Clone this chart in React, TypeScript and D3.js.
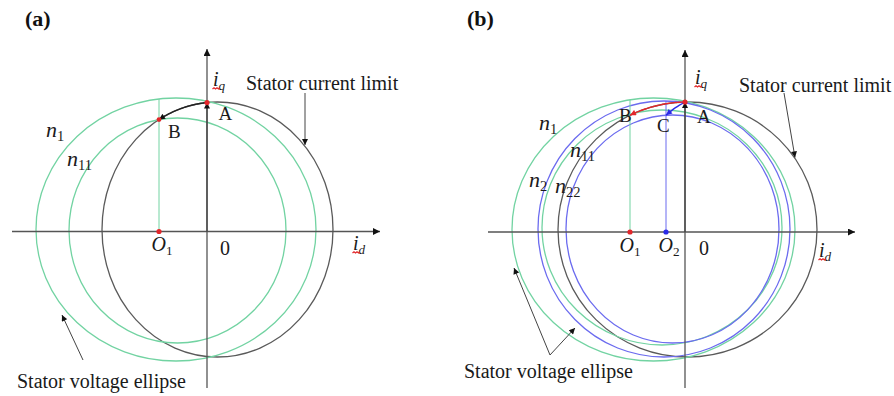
import React from "react";
import * as d3 from "d3";

const W = 894;
const H = 396;
const UNIT = 100; // pixels per unit of current

type Ellipse = { id: string; cx: number; cy: number; rx: number; ry: number; kind: "limit" | "green" | "blue" };
type Lbl = { x: number; y: number; main: string; sub?: string; italic?: boolean; subItalic?: boolean; size?: number; squiggle?: boolean };
type Arrow = { x1: number; y1: number; x2: number; y2: number };

// ---- panel (a) ----
const ellipsesA: Ellipse[] = [
  { id: "limit", cx: 0.105, cy: 0.02, rx: 1.155, ry: 1.275, kind: "limit" },
  { id: "n1", cx: -0.31, cy: 0.02, rx: 1.4, ry: 1.315, kind: "green" },
  { id: "n11", cx: -0.295, cy: 0.01, rx: 1.085, ry: 1.125, kind: "green" },
];
const centersA = [{ id: "O1", x: -0.48, guide: "n1", color: "red" }];
const trajectoryA = [{ to: "O1", along: "limit", color: "black" }];
const axisRangeA = { xMin: -1.95, xMax: 1.73, yMin: -1.565, yMax: 1.825 };
const labelsA: Lbl[] = [
  { x: 0.06, y: 1.455, main: "i", sub: "q", italic: true, subItalic: true, squiggle: true },
  { x: 0.39, y: 1.42, main: "Stator current limit" },
  { x: 0.115, y: 1.115, main: "A", size: 19 },
  { x: -0.39, y: 0.935, main: "B", size: 19 },
  { x: -1.61, y: 0.945, main: "n", sub: "1", italic: true, size: 22 },
  { x: -1.4, y: 0.66, main: "n", sub: "11", italic: true, size: 22 },
  { x: -0.555, y: -0.19, main: "O", sub: "1", italic: true },
  { x: 0.13, y: -0.235, main: "0" },
  { x: 1.46, y: -0.185, main: "i", sub: "d", italic: true, subItalic: true, squiggle: true },
  { x: -1.9, y: -1.565, main: "Stator voltage ellipse" },
];
const pointersA: Arrow[] = [
  { x1: 0.98, y1: 1.385, x2: 0.98, y2: 0.865 },
  { x1: -1.24, y1: -1.285, x2: -1.45, y2: -0.835 },
];

// ---- panel (b) ----
const ellipsesB: Ellipse[] = [
  { id: "limit", cx: 0.025, cy: 0.025, rx: 1.295, ry: 1.275, kind: "limit" },
  { id: "n1", cx: -0.315, cy: 0.025, rx: 1.415, ry: 1.315, kind: "green" },
  { id: "n11", cx: -0.23, cy: 0.045, rx: 1.2, ry: 1.175, kind: "green" },
  { id: "n2", cx: -0.21, cy: 0.03, rx: 1.26, ry: 1.28, kind: "blue" },
  { id: "n22", cx: -0.125, cy: 0.03, rx: 1.065, ry: 1.14, kind: "blue" },
];
const centersB = [
  { id: "O1", x: -0.55, guide: "n1", color: "red" },
  { id: "O2", x: -0.19, guide: "n2", color: "blue" },
];
const trajectoryB = [
  { to: "O1", along: "limit", color: "red" },
  { to: "O2", along: "n22", color: "blue" },
];
const axisRangeB = { xMin: -1.97, xMax: 1.7, yMin: -1.56, yMax: 1.82 };
const labelsB: Lbl[] = [
  { x: 0.1, y: 1.48, main: "i", sub: "q", italic: true, subItalic: true, squiggle: true },
  { x: 0.54, y: 1.405, main: "Stator current limit" },
  { x: 0.12, y: 1.09, main: "A", size: 19 },
  { x: -0.66, y: 1.1, main: "B", size: 19 },
  { x: -0.28, y: 1.0, main: "C", size: 19 },
  { x: -1.46, y: 1.02, main: "n", sub: "1", italic: true, size: 22 },
  { x: -1.15, y: 0.75, main: "n", sub: "11", italic: true, size: 22 },
  { x: -1.56, y: 0.45, main: "n", sub: "2", italic: true, size: 22 },
  { x: -1.3, y: 0.39, main: "n", sub: "22", italic: true, size: 22 },
  { x: -0.655, y: -0.2, main: "O", sub: "1", italic: true },
  { x: -0.265, y: -0.2, main: "O", sub: "2", italic: true },
  { x: 0.14, y: -0.23, main: "0" },
  { x: 1.34, y: -0.25, main: "i", sub: "d", italic: true, subItalic: true, squiggle: true },
  { x: -2.21, y: -1.46, main: "Stator voltage ellipse" },
];
const pointersB: Arrow[] = [
  { x1: 0.99, y1: 1.39, x2: 1.1, y2: 0.745 },
  { x1: -1.35, y1: -1.23, x2: -1.71, y2: -0.36 },
  { x1: -1.35, y1: -1.23, x2: -1.1, y2: -0.96 },
];

const STROKE: Record<string, string> = {
  limit: "#5a5a5a",
  green: "#72d3a2",
  blue: "#6b6bef",
};
const POINT: Record<string, string> = { red: "#e3262a", blue: "#2a2ae8", black: "#222" };
const FONT = "'Liberation Serif', 'Times New Roman', serif";

function upperY(e: Ellipse, x: number) {
  const t = (x - e.cx) / e.rx;
  return e.cy + e.ry * Math.sqrt(Math.max(0, 1 - t * t));
}

function Label({ l, x, y }: { l: Lbl; x: any; y: any }) {
  const size = l.size ?? 20;
  const px = x(l.x);
  const py = y(l.y);
  return (
    <g>
      <text x={px} y={py} fontFamily={FONT} fontSize={size} fill="#1a1a1a">
        <tspan fontStyle={l.italic ? "italic" : "normal"}>{l.main}</tspan>
        {l.sub && (
          <tspan fontSize={size * 0.66} dy={size * 0.2} fontStyle={l.subItalic ? "italic" : "normal"}>
            {l.sub}
          </tspan>
        )}
      </text>
      {l.squiggle && (
        <path
          d={`M${px - 0.5},${py + 3} l1.5,-1.2 l1.5,1.2 l1.5,-1.2 l1.5,1.2 l1.5,-1.2`}
          fill="none"
          stroke="#e3262a"
          strokeWidth={1.3}
        />
      )}
    </g>
  );
}

function Panel({
  tag,
  ox,
  oy,
  ellipses,
  centers,
  trajectory,
  range,
  labels,
  pointers,
  title,
}: any) {
  const x = d3.scaleLinear().domain([0, 1]).range([ox, ox + UNIT]);
  const y = d3.scaleLinear().domain([0, 1]).range([oy, oy - UNIT]);
  const byId: Record<string, Ellipse> = {};
  ellipses.forEach((e: Ellipse) => (byId[e.id] = e));
  const limit = byId["limit"];
  const aY = upperY(limit, 0);
  const line = d3
    .line<[number, number]>()
    .x((d) => x(d[0]))
    .y((d) => y(d[1]));

  return (
    <g>
      <text x={title.x} y={title.y} fontFamily={FONT} fontWeight="bold" fontSize={22} fill="#111">
        {`(${tag})`}
      </text>

      {ellipses.map((e: Ellipse) => (
        <ellipse
          key={e.id}
          cx={x(e.cx)}
          cy={y(e.cy)}
          rx={x(e.cx + e.rx) - x(e.cx)}
          ry={y(e.cy) - y(e.cy + e.ry)}
          fill="none"
          stroke={STROKE[e.kind]}
          strokeWidth={1.3}
        />
      ))}

      {/* vertical guides from ellipse centres */}
      {centers.map((c: any) => (
        <line
          key={c.id}
          x1={x(c.x)}
          x2={x(c.x)}
          y1={y(0)}
          y2={y(upperY(byId[c.guide], c.x))}
          stroke={c.color === "red" ? STROKE.green : STROKE.blue}
          strokeWidth={1}
        />
      ))}

      {/* axes */}
      <line
        x1={x(range.xMin)}
        x2={x(range.xMax)}
        y1={y(0)}
        y2={y(0)}
        stroke="#555"
        strokeWidth={1.3}
        markerEnd={`url(#${tag}-ax)`}
      />
      <line
        x1={x(0)}
        x2={x(0)}
        y1={y(range.yMin)}
        y2={y(range.yMax)}
        stroke="#555"
        strokeWidth={1.3}
        markerEnd={`url(#${tag}-ax)`}
      />
      {/* current vector up to point A */}
      <line x1={x(0)} x2={x(0)} y1={y(0)} y2={y(aY)} stroke="#444" strokeWidth={1.3} markerEnd={`url(#${tag}-black)`} />

      {/* trajectories from A to the new operating points */}
      {trajectory.map((t: any) => {
        const c = centers.find((cc: any) => cc.id === t.to);
        const e = byId[t.along];
        const xs = d3.range(0, 41).map((i) => (c.x * i) / 40);
        let pts: [number, number][];
        if (t.along === "limit") {
          pts = xs.map((v) => [v, upperY(e, v)] as [number, number]);
        } else {
          const end: [number, number] = [c.x, upperY(e, c.x)];
          pts = [[0, aY], [c.x * 0.5, (aY + end[1]) / 2 + 0.01], end];
        }
        return (
          <path
            key={t.to}
            d={line.curve(d3.curveMonotoneX)(pts.slice().reverse()) ?? ""}
            fill="none"
            stroke={POINT[t.color]}
            strokeWidth={1.4}
            markerStart={`url(#${tag}-${t.color}-s)`}
          />
        );
      })}

      {/* annotation pointers */}
      {pointers.map((p: Arrow, i: number) => (
        <line
          key={i}
          x1={x(p.x1)}
          y1={y(p.y1)}
          x2={x(p.x2)}
          y2={y(p.y2)}
          stroke="#444"
          strokeWidth={1}
          markerEnd={`url(#${tag}-black)`}
        />
      ))}

      {/* marked points */}
      <circle cx={x(0)} cy={y(aY)} r={2.6} fill={POINT.red} />
      {centers.map((c: any) => (
        <circle key={c.id} cx={x(c.x)} cy={y(0)} r={2.6} fill={POINT[c.color]} />
      ))}
      {tag === "a" &&
        centers.map((c: any) => (
          <circle key={"b" + c.id} cx={x(c.x)} cy={y(upperY(limit, c.x))} r={2.4} fill={POINT.red} />
        ))}

      {labels.map((l: Lbl, i: number) => (
        <Label key={i} l={l} x={x} y={y} />
      ))}
    </g>
  );
}

function Markers({ tag }: { tag: string }) {
  const mk = (id: string, color: string, w: number, h: number, start = false) => (
    <marker
      id={id}
      viewBox="0 0 10 10"
      refX={start ? 0 : 10}
      refY={5}
      markerWidth={w}
      markerHeight={h}
      markerUnits="userSpaceOnUse"
      orient="auto"
    >
      <path d={start ? "M10,0 L0,5 L10,10 z" : "M0,0 L10,5 L0,10 z"} fill={color} />
    </marker>
  );
  return (
    <defs>
      {mk(`${tag}-ax`, "#111", 10, 7)}
      {mk(`${tag}-black`, "#111", 8, 6)}
      {mk(`${tag}-black-s`, "#111", 8, 6, true)}
      {mk(`${tag}-red-s`, POINT.red, 8, 6, true)}
      {mk(`${tag}-blue-s`, POINT.blue, 8, 6, true)}
    </defs>
  );
}

export default function App() {
  return (
    <svg
      width={W}
      height={H}
      viewBox={`0 0 ${W} ${H}`}
      style={{ position: "absolute", left: 0, top: 0, background: "#fff" }}
    >
      <rect width={W} height={H} fill="#fff" />
      <Markers tag="a" />
      <Markers tag="b" />
      <Panel
        tag="a"
        ox={207}
        oy={231.5}
        ellipses={ellipsesA}
        centers={centersA}
        trajectory={trajectoryA}
        range={axisRangeA}
        labels={labelsA}
        pointers={pointersA}
        title={{ x: 25, y: 26 }}
      />
      <Panel
        tag="b"
        ox={685}
        oy={232}
        ellipses={ellipsesB}
        centers={centersB}
        trajectory={trajectoryB}
        range={axisRangeB}
        labels={labelsB}
        pointers={pointersB}
        title={{ x: 467, y: 26 }}
      />
    </svg>
  );
}
